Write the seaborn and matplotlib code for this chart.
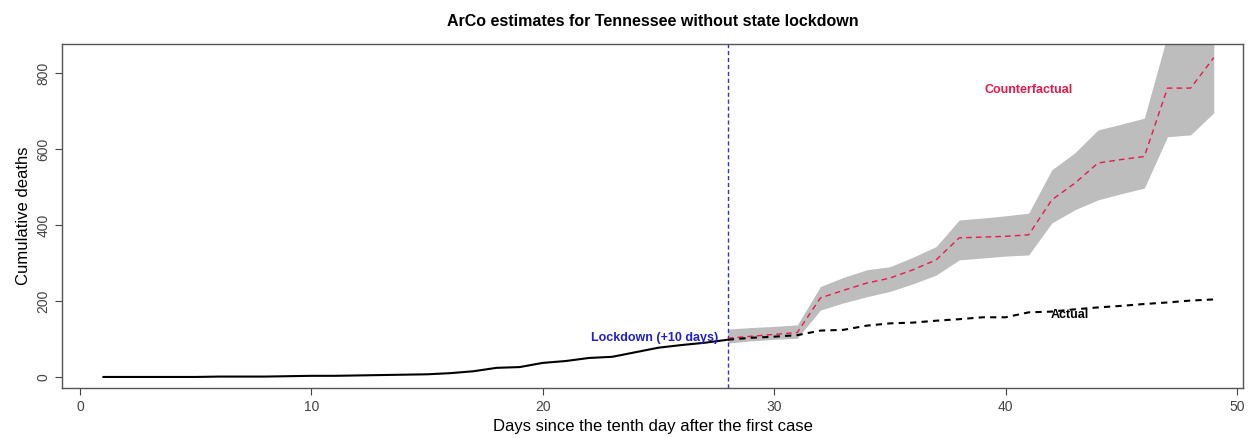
import seaborn as sns
import matplotlib.pyplot as plt
import pandas as pd
import numpy as np

# observed cumulative deaths, days 1..49
days = list(range(1, 50))
actual = [0, 0, 0, 0, 0, 1, 1, 1, 2, 3, 3, 4, 5, 6, 7, 10, 15, 24, 26, 37,
          42, 50, 53, 65, 77, 84, 90, 98,
          103, 106, 110, 122, 124, 135, 141, 143, 148, 152, 157, 157, 170,
          172, 178, 183, 187, 192, 196, 201, 204]

# counterfactual (no lockdown) from day 28 on
cf_days = list(range(28, 50))
counterfactual = [102, 107, 112, 117, 208, 228, 247, 260, 282, 308, 366, 368,
                  370, 374, 466, 510, 563, 572, 580, 760, 760, 840]
cf_lower = [89, 95, 99, 102, 176, 195, 211, 225, 245, 268, 308, 313,
            318, 321, 405, 440, 466, 482, 497, 632, 637, 695]
cf_upper = [126, 130, 133, 137, 238, 262, 282, 290, 315, 343, 413, 418,
            424, 431, 545, 590, 650, 665, 681, 900, 905, 990]

lockdown_day = 28

df = pd.DataFrame({"day": days, "deaths": actual})
pre = df[df.day <= lockdown_day]
post = df[df.day >= lockdown_day]
cf = pd.DataFrame({"day": cf_days, "deaths": counterfactual,
                   "lo": cf_lower, "hi": cf_upper})

sns.set_style("white")
plt.rcParams['font.family'] = ['Liberation Sans', 'DejaVu Sans']
plt.rcParams['text.color'] = 'black'
plt.rcParams['axes.labelcolor'] = 'black'

fig = plt.figure(figsize=(12.58, 4.38), dpi=100)
ax = fig.add_axes([0.0493, 0.1142, 0.9387, 0.7853])

ax.fill_between(cf.day, cf.lo, cf.hi, color="#bdbdbd", lw=0, zorder=1)
sns.lineplot(data=cf, x="day", y="deaths", ax=ax, color="#e8194b",
             linestyle=(0, (4, 3)), lw=1.0, zorder=3)
sns.lineplot(data=pre, x="day", y="deaths", ax=ax, color="black", lw=1.5, zorder=4)
sns.lineplot(data=post, x="day", y="deaths", ax=ax, color="black",
             linestyle=(0, (3, 2.5)), lw=1.5, zorder=4)
ax.axvline(lockdown_day, color="#3333cc", linestyle=(0, (3, 2)), lw=1.0, zorder=2)

ax.text(24.85, 103, "Lockdown (+10 days)", color="#2020cc", fontsize=9,
        fontweight="bold", ha="center", va="center", zorder=5)
ax.text(41.0, 755, "Counterfactual", color="#e8194b", fontsize=9,
        fontweight="bold", ha="center", va="center")
ax.text(42.8, 163, "Actual", color="black", fontsize=9,
        fontweight="bold", ha="center", va="center")

ax.set_xlim(-0.78, 50.26)
ax.set_ylim(-29, 876)
ax.set_xticks([0, 10, 20, 30, 40, 50])
ax.set_yticks([0, 200, 400, 600, 800])
ax.tick_params(axis="both", direction="out", length=5, width=0.8,
               colors="#444444", labelsize=10, bottom=True, left=True)
ax.tick_params(axis="y", labelrotation=90)
plt.setp(ax.get_yticklabels(), va="center")
for s in ax.spines.values():
    s.set_color("#555555")
    s.set_linewidth(1.0)

ax.set_xlabel("Days since the tenth day after the first case", fontsize=12)
ax.set_ylabel("Cumulative deaths", fontsize=12)
ax.set_title("ArCo estimates for Tennessee without state lockdown",
             fontsize=11.5, fontweight="bold", pad=13)

fig.savefig("out.png", dpi=100)
